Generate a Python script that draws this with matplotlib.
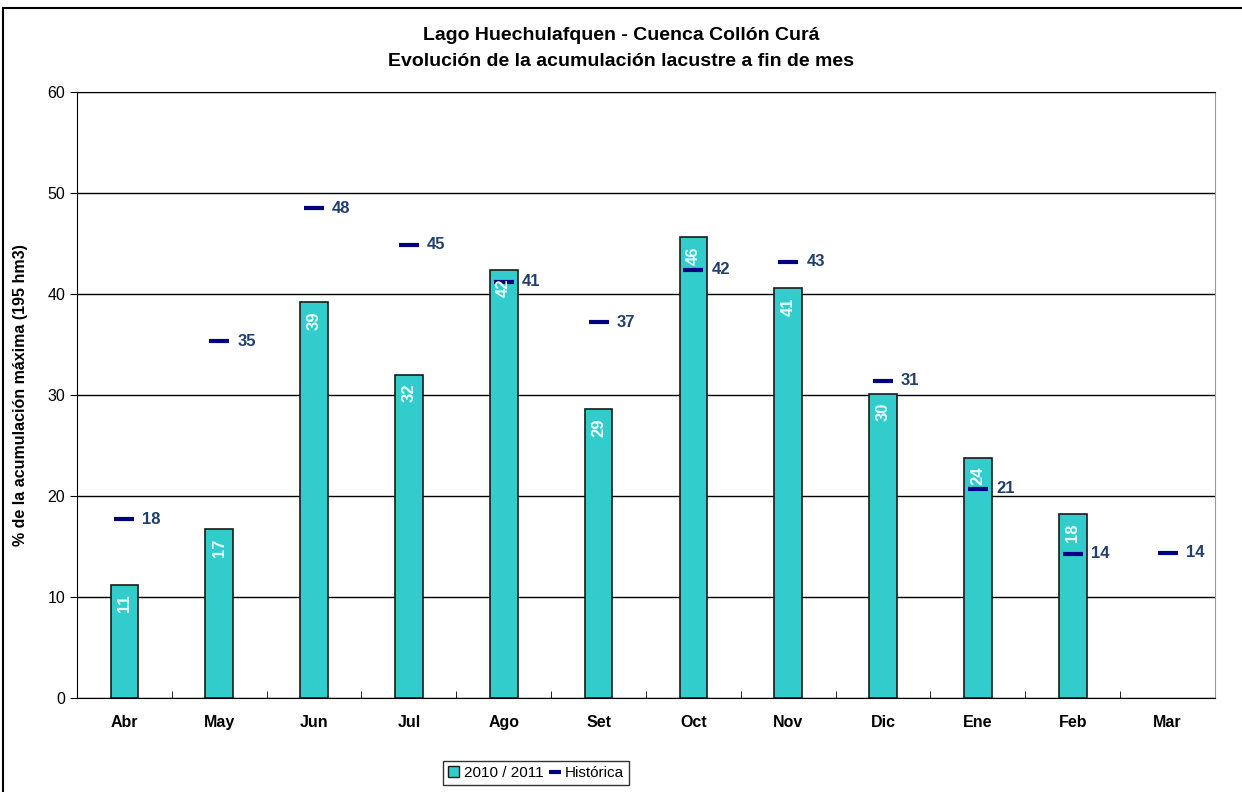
import matplotlib.pyplot as plt
from matplotlib.lines import Line2D
from matplotlib.patches import Patch, Rectangle
import numpy as np

plt.rcParams['font.family'] = ['Liberation Sans', 'DejaVu Sans']

meses = ['Abr', 'May', 'Jun', 'Jul', 'Ago', 'Set', 'Oct', 'Nov', 'Dic', 'Ene', 'Feb', 'Mar']
actual = [11.2, 16.7, 39.2, 32.0, 42.4, 28.6, 45.6, 40.6, 30.1, 23.8, 18.2, None]
historica = [17.7, 35.3, 48.5, 44.9, 41.2, 37.2, 42.4, 43.2, 31.4, 20.7, 14.3, 14.4]

fig = plt.figure(figsize=(12.42, 7.92), dpi=100)
ax = fig.add_axes([77 / 1242, 1 - 698 / 792, (1215 - 77) / 1242, (698 - 92) / 792])

# marco exterior
fig.patches.append(Rectangle((3 / 1242, -0.01), 1.2, 1 - 8 / 792 + 0.01, transform=fig.transFigure,
                             fill=False, edgecolor='black', linewidth=1.5))

x = np.arange(len(meses))
xb = [i for i, v in zip(x, actual) if v is not None]
vb = [v for v in actual if v is not None]
bars = ax.bar(xb, vb, width=0.29, color='#33CCCC', edgecolor='#1a1a1a', linewidth=1.2, zorder=3)
for xi, v in zip(xb, vb):
    ax.text(xi, v - 0.9, '%d' % round(v), rotation=90, ha='center', va='top',
            color='#E6FFFF', fontsize=12, fontweight='bold', zorder=5)

ax.plot(x, historica, linestyle='none', marker='_', markersize=15, markeredgewidth=3,
        color='#000080', zorder=4)
for xi, v in zip(x, historica):
    ax.text(xi + 0.19, v, '%d' % round(v), ha='left', va='center',
            color='#1F3F6F', fontsize=12, fontweight='bold', zorder=5)

ax.set_xlim(-0.5, len(meses) - 0.5)
ax.set_ylim(0, 60)
ax.set_yticks(range(0, 61, 10))
ax.yaxis.grid(True, color='black', linewidth=1)
ax.set_axisbelow(True)
ax.set_xticks(x)
ax.set_xticklabels(meses, fontsize=11.5, fontweight='bold')
ax.set_xticks(np.arange(-0.5, len(meses), 1), minor=True)
ax.tick_params(axis='x', which='major', length=0, pad=12)
ax.tick_params(axis='x', which='minor', length=5, direction='in')
ax.tick_params(axis='y', labelsize=11.5, length=5, direction='out')
ax.spines['right'].set_color('#999999')
ax.spines['top'].set_color('black')
ax.set_ylabel('% de la acumulación máxima (195 hm3)', fontsize=11.5, fontweight='bold', labelpad=14)

fig.text(0.5, 1 - 35 / 792, 'Lago Huechulafquen - Cuenca Collón Curá', ha='center', va='center',
         fontsize=14, fontweight='bold')
fig.text(0.5, 1 - 62 / 792, 'Evolución de la acumulación lacustre a fin de mes', ha='center', va='center',
         fontsize=14, fontweight='bold')

handles = [Patch(facecolor='#33CCCC', edgecolor='#1a1a1a', label='2010 / 2011'),
           Line2D([], [], linestyle='none', marker='_', markersize=9, markeredgewidth=3,
                  color='#000080', label='Histórica')]
fig.legend(handles=handles, loc='center', bbox_to_anchor=(536 / 1242, 1 - 773 / 792), ncol=2,
           frameon=True, fancybox=False, edgecolor='black', fontsize=11,
           handlelength=0.7, handletextpad=0.3, columnspacing=0.4, borderpad=0.35)

fig.savefig('out.png', dpi=100)
